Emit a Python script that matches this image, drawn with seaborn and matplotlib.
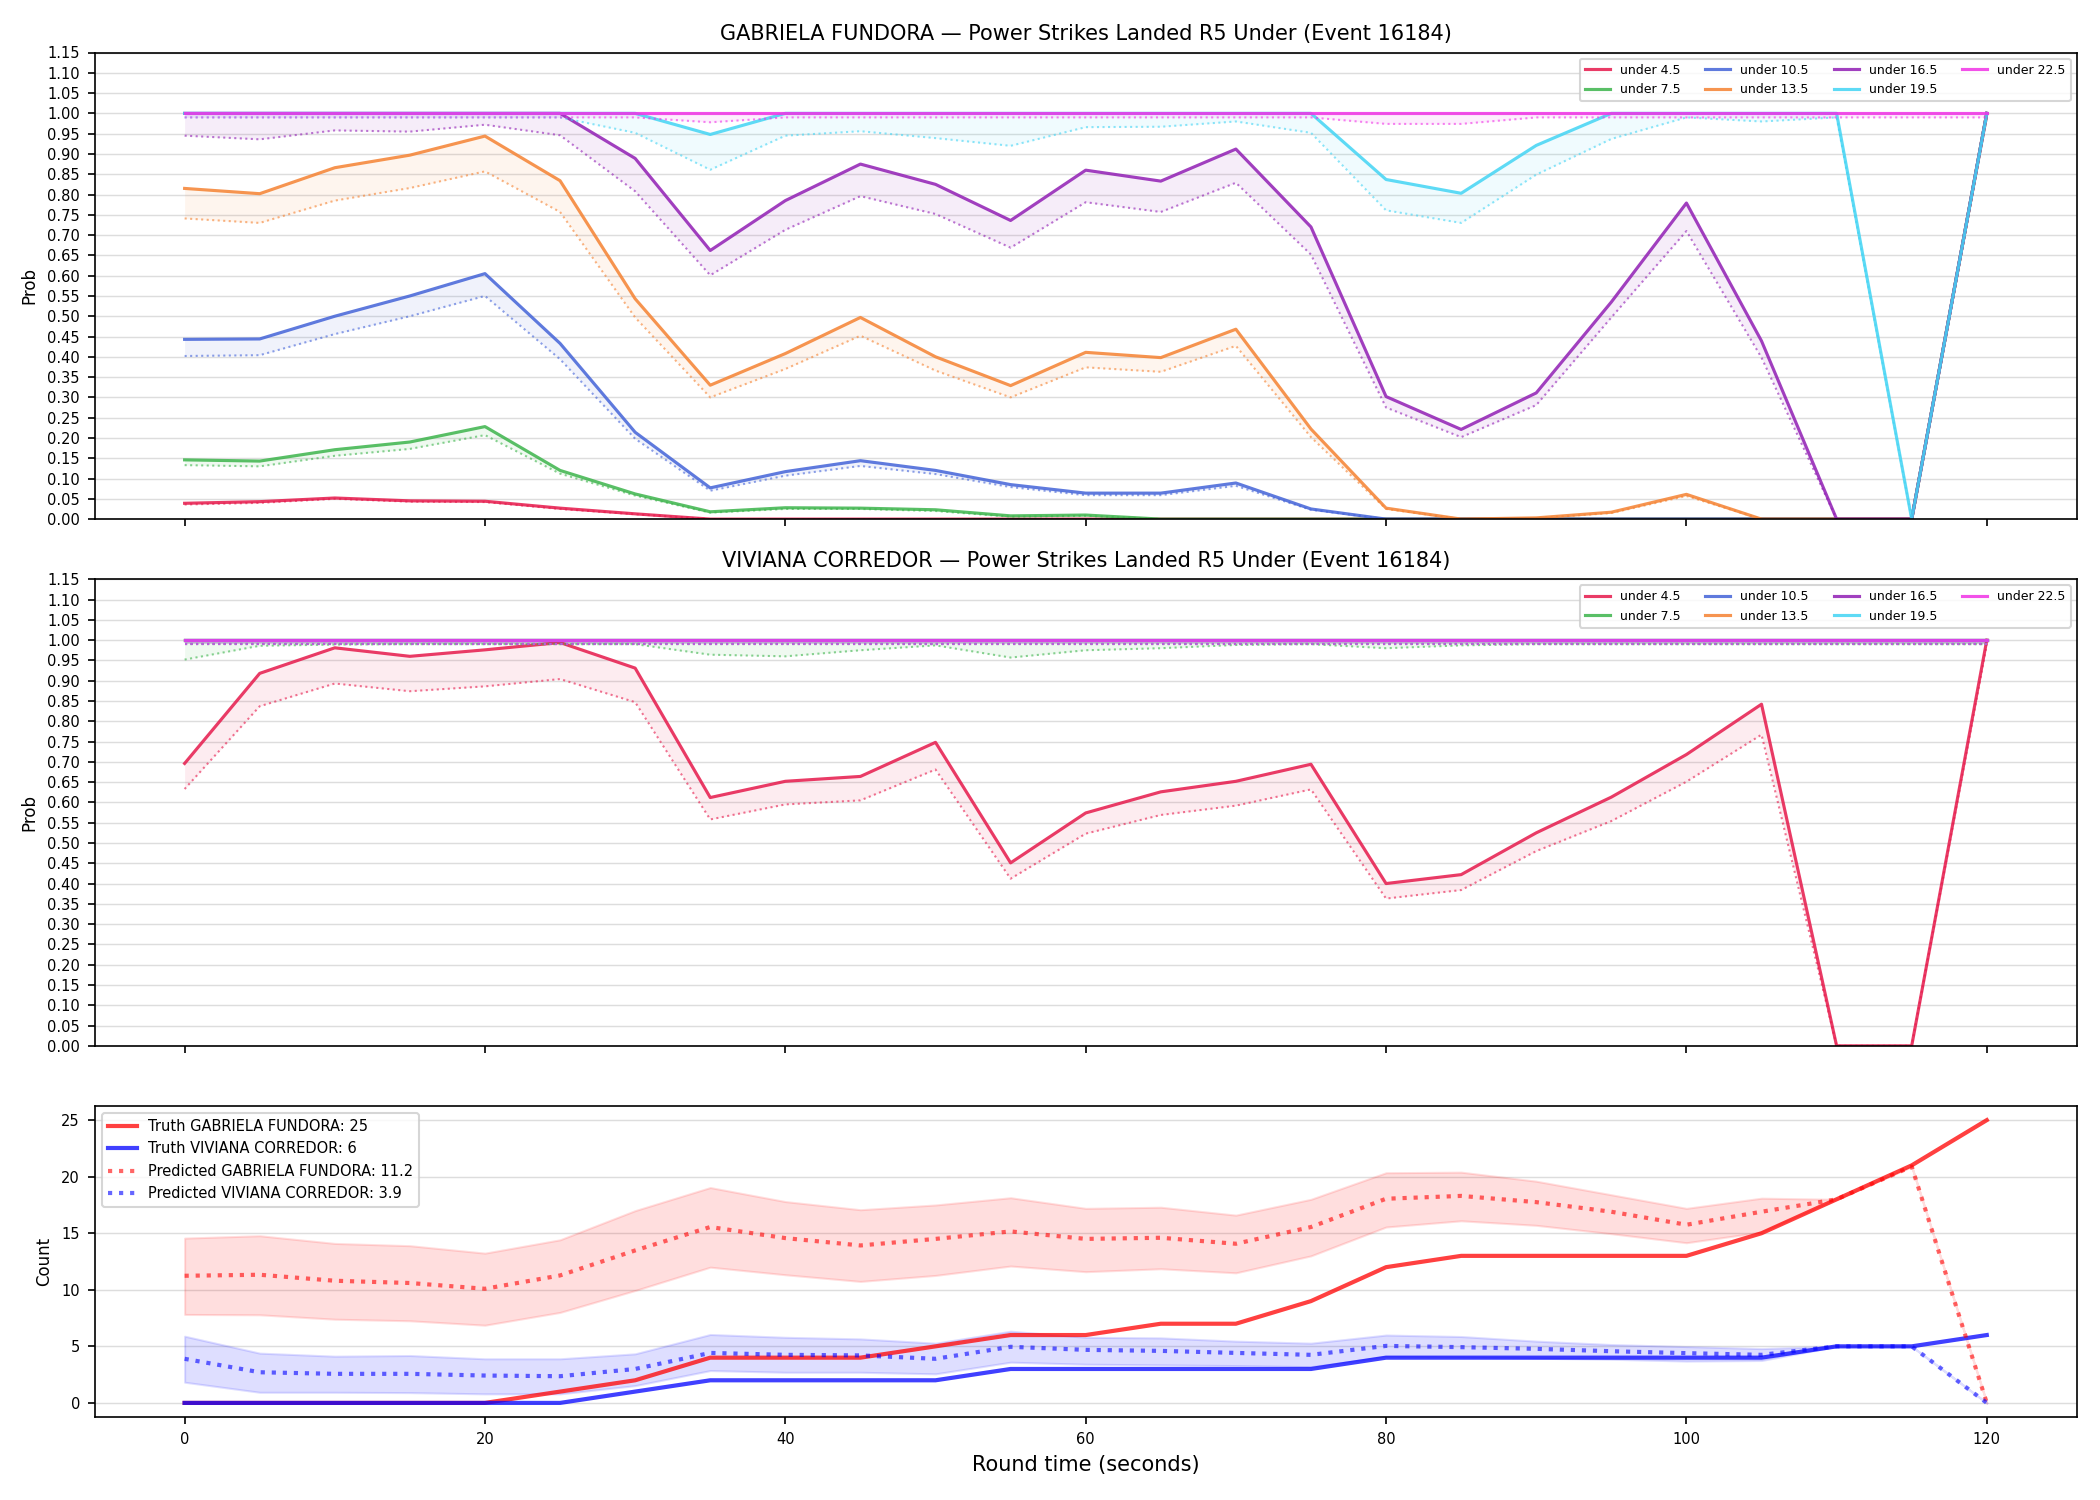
import numpy as np
import pandas as pd
import matplotlib
matplotlib.use("Agg")
import matplotlib.pyplot as plt
import seaborn as sns

plt.rcParams['font.family'] = ['DejaVu Sans']

# =========================
# data
# =========================
t = [0, 5, 10, 15, 20, 25, 30, 35, 40, 45, 50, 55, 60, 65, 70, 75, 80, 85, 90, 95, 100, 105, 110, 115, 120]

thresholds = ["under 4.5", "under 7.5", "under 10.5", "under 13.5", "under 16.5", "under 19.5", "under 22.5"]
colors = ["#e6194b", "#3cb44b", "#4363d8", "#f58231", "#911eb4", "#42d4f4", "#f032e6"]

# GABRIELA FUNDORA: solid line and dotted line per threshold
gf_u45 = [0.039, 0.043, 0.052, 0.045, 0.044, 0.027, 0.013, 0, 0, 0, 0, 0, 0, 0, 0, 0, 0, 0, 0, 0, 0, 0, 0, 0, 1.0]
gf_u75 = [0.146, 0.143, 0.171, 0.190, 0.228, 0.120, 0.062, 0.018, 0.028, 0.027, 0.023, 0.008, 0.010, 0, 0, 0, 0, 0, 0, 0, 0, 0, 0, 0, 1.0]
gf_u105 = [0.443, 0.444, 0.500, 0.550, 0.605, 0.433, 0.214, 0.077, 0.117, 0.144, 0.120, 0.085, 0.064, 0.064, 0.089, 0.025, 0, 0, 0, 0, 0, 0, 0, 0, 1.0]
gf_u135 = [0.815, 0.802, 0.866, 0.897, 0.944, 0.834, 0.543, 0.330, 0.408, 0.497, 0.400, 0.329, 0.411, 0.398, 0.468, 0.222, 0.027, 0.0, 0.003, 0.017, 0.061, 0, 0, 0, 1.0]
gf_u165 = [1, 1, 1, 1, 1, 1, 0.889, 0.662, 0.785, 0.875, 0.825, 0.736, 0.860, 0.833, 0.912, 0.720, 0.302, 0.221, 0.311, 0.535, 0.779, 0.439, 0, 0, 1.0]
gf_u195 = [1, 1, 1, 1, 1, 1, 1, 0.948, 1, 1, 1, 1, 1, 1, 1, 1, 0.837, 0.803, 0.921, 1, 1, 1, 1, 0, 1.0]
gf_u225 = [1, 1, 1, 1, 1, 1, 1, 1, 1, 1, 1, 1, 1, 1, 1, 1, 1, 1, 1, 1, 1, 1, 1, 1, 1.0]

gf_u45_m = [0.036, 0.040, 0.050, 0.043, 0.042, 0.025, 0.012, 0, 0, 0, 0, 0, 0, 0, 0, 0, 0, 0, 0, 0, 0, 0, 0, 0, 0.99]
gf_u75_m = [0.133, 0.130, 0.156, 0.173, 0.207, 0.112, 0.058, 0.016, 0.025, 0.025, 0.020, 0.006, 0.008, 0, 0, 0, 0, 0, 0, 0, 0, 0, 0, 0, 0.99]
gf_u105_m = [0.402, 0.404, 0.456, 0.500, 0.550, 0.394, 0.198, 0.070, 0.107, 0.131, 0.111, 0.079, 0.059, 0.059, 0.082, 0.023, 0, 0, 0, 0, 0, 0, 0, 0, 0.99]
gf_u135_m = [0.741, 0.730, 0.785, 0.816, 0.857, 0.757, 0.497, 0.300, 0.370, 0.452, 0.366, 0.300, 0.374, 0.363, 0.427, 0.202, 0.025, 0, 0.002, 0.015, 0.057, 0, 0, 0, 0.99]
gf_u165_m = [0.945, 0.936, 0.958, 0.955, 0.972, 0.946, 0.808, 0.601, 0.713, 0.796, 0.752, 0.669, 0.781, 0.757, 0.829, 0.652, 0.275, 0.202, 0.281, 0.497, 0.710, 0.398, 0, 0, 0.99]
gf_u195_m = [0.99, 0.99, 0.99, 0.99, 0.99, 0.99, 0.952, 0.861, 0.945, 0.956, 0.939, 0.920, 0.966, 0.967, 0.980, 0.952, 0.761, 0.730, 0.849, 0.937, 0.99, 0.98, 0.99, 0, 0.99]
gf_u225_m = [0.99, 0.99, 0.99, 0.99, 0.99, 0.99, 0.99, 0.978, 0.99, 0.99, 0.99, 0.99, 0.99, 0.99, 0.99, 0.99, 0.974, 0.974, 0.99, 0.99, 0.99, 0.99, 0.99, 0.99, 0.99]

# VIVIANA CORREDOR
vc_u45 = [0.696, 0.918, 0.981, 0.960, 0.976, 0.994, 0.931, 0.612, 0.652, 0.664, 0.748, 0.451, 0.574, 0.626, 0.652, 0.694, 0.400, 0.422, 0.525, 0.613, 0.718, 0.842, 0, 0, 1.0]
vc_u75 = [1, 1, 1, 1, 1, 1, 1, 1, 1, 1, 1, 1, 1, 1, 1, 1, 1, 1, 1, 1, 1, 1, 1, 1, 1.0]
vc_u105 = [1, 1, 1, 1, 1, 1, 1, 1, 1, 1, 1, 1, 1, 1, 1, 1, 1, 1, 1, 1, 1, 1, 1, 1, 1.0]
vc_u135 = [1, 1, 1, 1, 1, 1, 1, 1, 1, 1, 1, 1, 1, 1, 1, 1, 1, 1, 1, 1, 1, 1, 1, 1, 1.0]
vc_u165 = [1, 1, 1, 1, 1, 1, 1, 1, 1, 1, 1, 1, 1, 1, 1, 1, 1, 1, 1, 1, 1, 1, 1, 1, 1.0]
vc_u195 = [1, 1, 1, 1, 1, 1, 1, 1, 1, 1, 1, 1, 1, 1, 1, 1, 1, 1, 1, 1, 1, 1, 1, 1, 1.0]
vc_u225 = [1, 1, 1, 1, 1, 1, 1, 1, 1, 1, 1, 1, 1, 1, 1, 1, 1, 1, 1, 1, 1, 1, 1, 1, 1.0]

vc_u45_m = [0.633, 0.837, 0.893, 0.874, 0.886, 0.904, 0.847, 0.558, 0.595, 0.605, 0.681, 0.412, 0.523, 0.569, 0.592, 0.632, 0.363, 0.384, 0.480, 0.554, 0.651, 0.767, 0, 0, 0.99]
vc_u75_m = [0.952, 0.986, 0.989, 0.99, 0.99, 0.99, 0.99, 0.964, 0.960, 0.975, 0.987, 0.957, 0.975, 0.980, 0.988, 0.99, 0.980, 0.987, 0.99, 0.99, 0.99, 0.99, 0.99, 0.99, 0.99]
vc_u105_m = [0.99, 0.99, 0.99, 0.99, 0.99, 0.99, 0.99, 0.99, 0.99, 0.99, 0.99, 0.99, 0.99, 0.99, 0.99, 0.99, 0.99, 0.99, 0.99, 0.99, 0.99, 0.99, 0.99, 0.99, 0.99]
vc_u135_m = [0.99, 0.99, 0.99, 0.99, 0.99, 0.99, 0.99, 0.99, 0.99, 0.99, 0.99, 0.99, 0.99, 0.99, 0.99, 0.99, 0.99, 0.99, 0.99, 0.99, 0.99, 0.99, 0.99, 0.99, 0.99]
vc_u165_m = [0.99, 0.99, 0.99, 0.99, 0.99, 0.99, 0.99, 0.99, 0.99, 0.99, 0.99, 0.99, 0.99, 0.99, 0.99, 0.99, 0.99, 0.99, 0.99, 0.99, 0.99, 0.99, 0.99, 0.99, 0.99]
vc_u195_m = [0.99, 0.99, 0.99, 0.99, 0.99, 0.99, 0.99, 0.99, 0.99, 0.99, 0.99, 0.99, 0.99, 0.99, 0.99, 0.99, 0.99, 0.99, 0.99, 0.99, 0.99, 0.99, 0.99, 0.99, 0.99]
vc_u225_m = [0.99, 0.99, 0.99, 0.99, 0.99, 0.99, 0.99, 0.99, 0.99, 0.99, 0.99, 0.99, 0.99, 0.99, 0.99, 0.99, 0.99, 0.99, 0.99, 0.99, 0.99, 0.99, 0.99, 0.99, 0.99]

# counts
truth_gf = [0, 0, 0, 0, 0, 1, 2, 4, 4, 4, 5, 6, 6, 7, 7, 9, 12, 13, 13, 13, 13, 15, 18, 21, 25]
truth_vc = [0, 0, 0, 0, 0, 0, 1, 2, 2, 2, 2, 3, 3, 3, 3, 3, 4, 4, 4, 4, 4, 4, 5, 5, 6]
pred_gf = [11.24, 11.33, 10.8, 10.6, 10.09, 11.27, 13.48, 15.55, 14.57, 13.92, 14.5, 15.16, 14.5, 14.6, 14.07, 15.55, 18.05, 18.3, 17.75, 16.9, 15.75, 16.9, 18.0, 20.9, 0]
pred_gf_hi = [14.57, 14.78, 14.1, 13.9, 13.24, 14.42, 17.0, 19.04, 17.8, 17.08, 17.5, 18.14, 17.2, 17.3, 16.6, 18.0, 20.35, 20.4, 19.6, 18.4, 17.2, 18.1, 18.0, 20.9, 0]
pred_gf_lo = [7.82, 7.79, 7.4, 7.26, 6.87, 8.0, 9.94, 12.0, 11.33, 10.74, 11.27, 12.1, 11.6, 11.86, 11.5, 13.0, 15.55, 16.1, 15.7, 14.96, 14.16, 15.1, 18.0, 20.9, 0]
pred_vc = [3.9, 2.71, 2.57, 2.57, 2.42, 2.36, 3.0, 4.42, 4.25, 4.2, 3.9, 4.96, 4.69, 4.6, 4.42, 4.25, 5.04, 4.93, 4.78, 4.57, 4.4, 4.25, 5.0, 5.0, 0]
pred_vc_hi = [5.9, 4.4, 4.13, 4.19, 3.9, 3.9, 4.34, 6.05, 5.8, 5.66, 5.28, 6.34, 5.8, 5.75, 5.46, 5.28, 6.0, 5.87, 5.46, 5.16, 4.98, 4.8, 5.0, 5.0, 0]
pred_vc_lo = [1.83, 0.94, 0.94, 0.91, 0.8, 0.8, 1.53, 2.86, 2.71, 2.71, 2.57, 3.6, 3.42, 3.36, 3.3, 3.2, 4.1, 4.04, 3.95, 3.86, 3.7, 3.75, 5.0, 5.0, 0]

gf_solid = [gf_u45, gf_u75, gf_u105, gf_u135, gf_u165, gf_u195, gf_u225]
gf_dot = [gf_u45_m, gf_u75_m, gf_u105_m, gf_u135_m, gf_u165_m, gf_u195_m, gf_u225_m]
vc_solid = [vc_u45, vc_u75, vc_u105, vc_u135, vc_u165, vc_u195, vc_u225]
vc_dot = [vc_u45_m, vc_u75_m, vc_u105_m, vc_u135_m, vc_u165_m, vc_u195_m, vc_u225_m]

# =========================
# figure
# =========================
fig, axes = plt.subplots(3, 1, figsize=(14, 10), dpi=150, sharex=True,
                         gridspec_kw={"height_ratios": [1.5, 1.5, 1]})
fig.subplots_adjust(left=0.045, right=0.989, top=0.965, bottom=0.0553, hspace=0.145)

panels = [("GABRIELA FUNDORA", gf_solid, gf_dot), ("VIVIANA CORREDOR", vc_solid, vc_dot)]

for ax, (name, solid, dot) in zip(axes[:2], panels):
    for lab, col, s, d in zip(thresholds, colors, solid, dot):
        sns.lineplot(x=t, y=s, ax=ax, color=col, lw=1.5, alpha=0.85, label=lab)
        sns.lineplot(x=t, y=d, ax=ax, color=col, lw=1.0, alpha=0.6, linestyle=":")
        ax.fill_between(t, s, d, color=col, alpha=0.08, lw=0)
    ax.set_ylim(0, 1.15)
    ax.set_yticks(np.arange(0, 1.151, 0.05))
    ax.set_yticklabels([f"{v:.2f}" for v in np.arange(0, 1.151, 0.05)])
    ax.grid(axis="y", color="#dddddd", lw=0.7)
    ax.set_axisbelow(True)
    ax.set_ylabel("Prob", fontsize=8)
    ax.set_title(f"{name} — Power Strikes Landed R5 Under (Event 16184)", fontsize=10)
    ax.tick_params(labelsize=7)
    ax.legend(loc="upper right", ncol=4, fontsize=6)

# =========================
# counts panel
# =========================
ax = axes[2]
sns.lineplot(x=t, y=truth_gf, ax=ax, color="red", lw=2, alpha=0.75, label="Truth GABRIELA FUNDORA: 25")
sns.lineplot(x=t, y=truth_vc, ax=ax, color="blue", lw=2, alpha=0.75, label="Truth VIVIANA CORREDOR: 6")
sns.lineplot(x=t, y=pred_gf, ax=ax, color="red", lw=2, alpha=0.6, linestyle=":",
             label="Predicted GABRIELA FUNDORA: 11.2")
ax.fill_between(t, pred_gf_lo, pred_gf_hi, color="red", alpha=0.13)
sns.lineplot(x=t, y=pred_vc, ax=ax, color="blue", lw=2, alpha=0.6, linestyle=":",
             label="Predicted VIVIANA CORREDOR: 3.9")
ax.fill_between(t, pred_vc_lo, pred_vc_hi, color="blue", alpha=0.13)
ax.grid(axis="y", color="#dddddd", lw=0.7)
ax.set_axisbelow(True)
ax.set_ylabel("Count", fontsize=8)
ax.set_xlabel("Round time (seconds)", fontsize=10)
ax.tick_params(labelsize=7)
ax.legend(loc="upper left", fontsize=7)

fig.savefig("out.png", dpi=150)
